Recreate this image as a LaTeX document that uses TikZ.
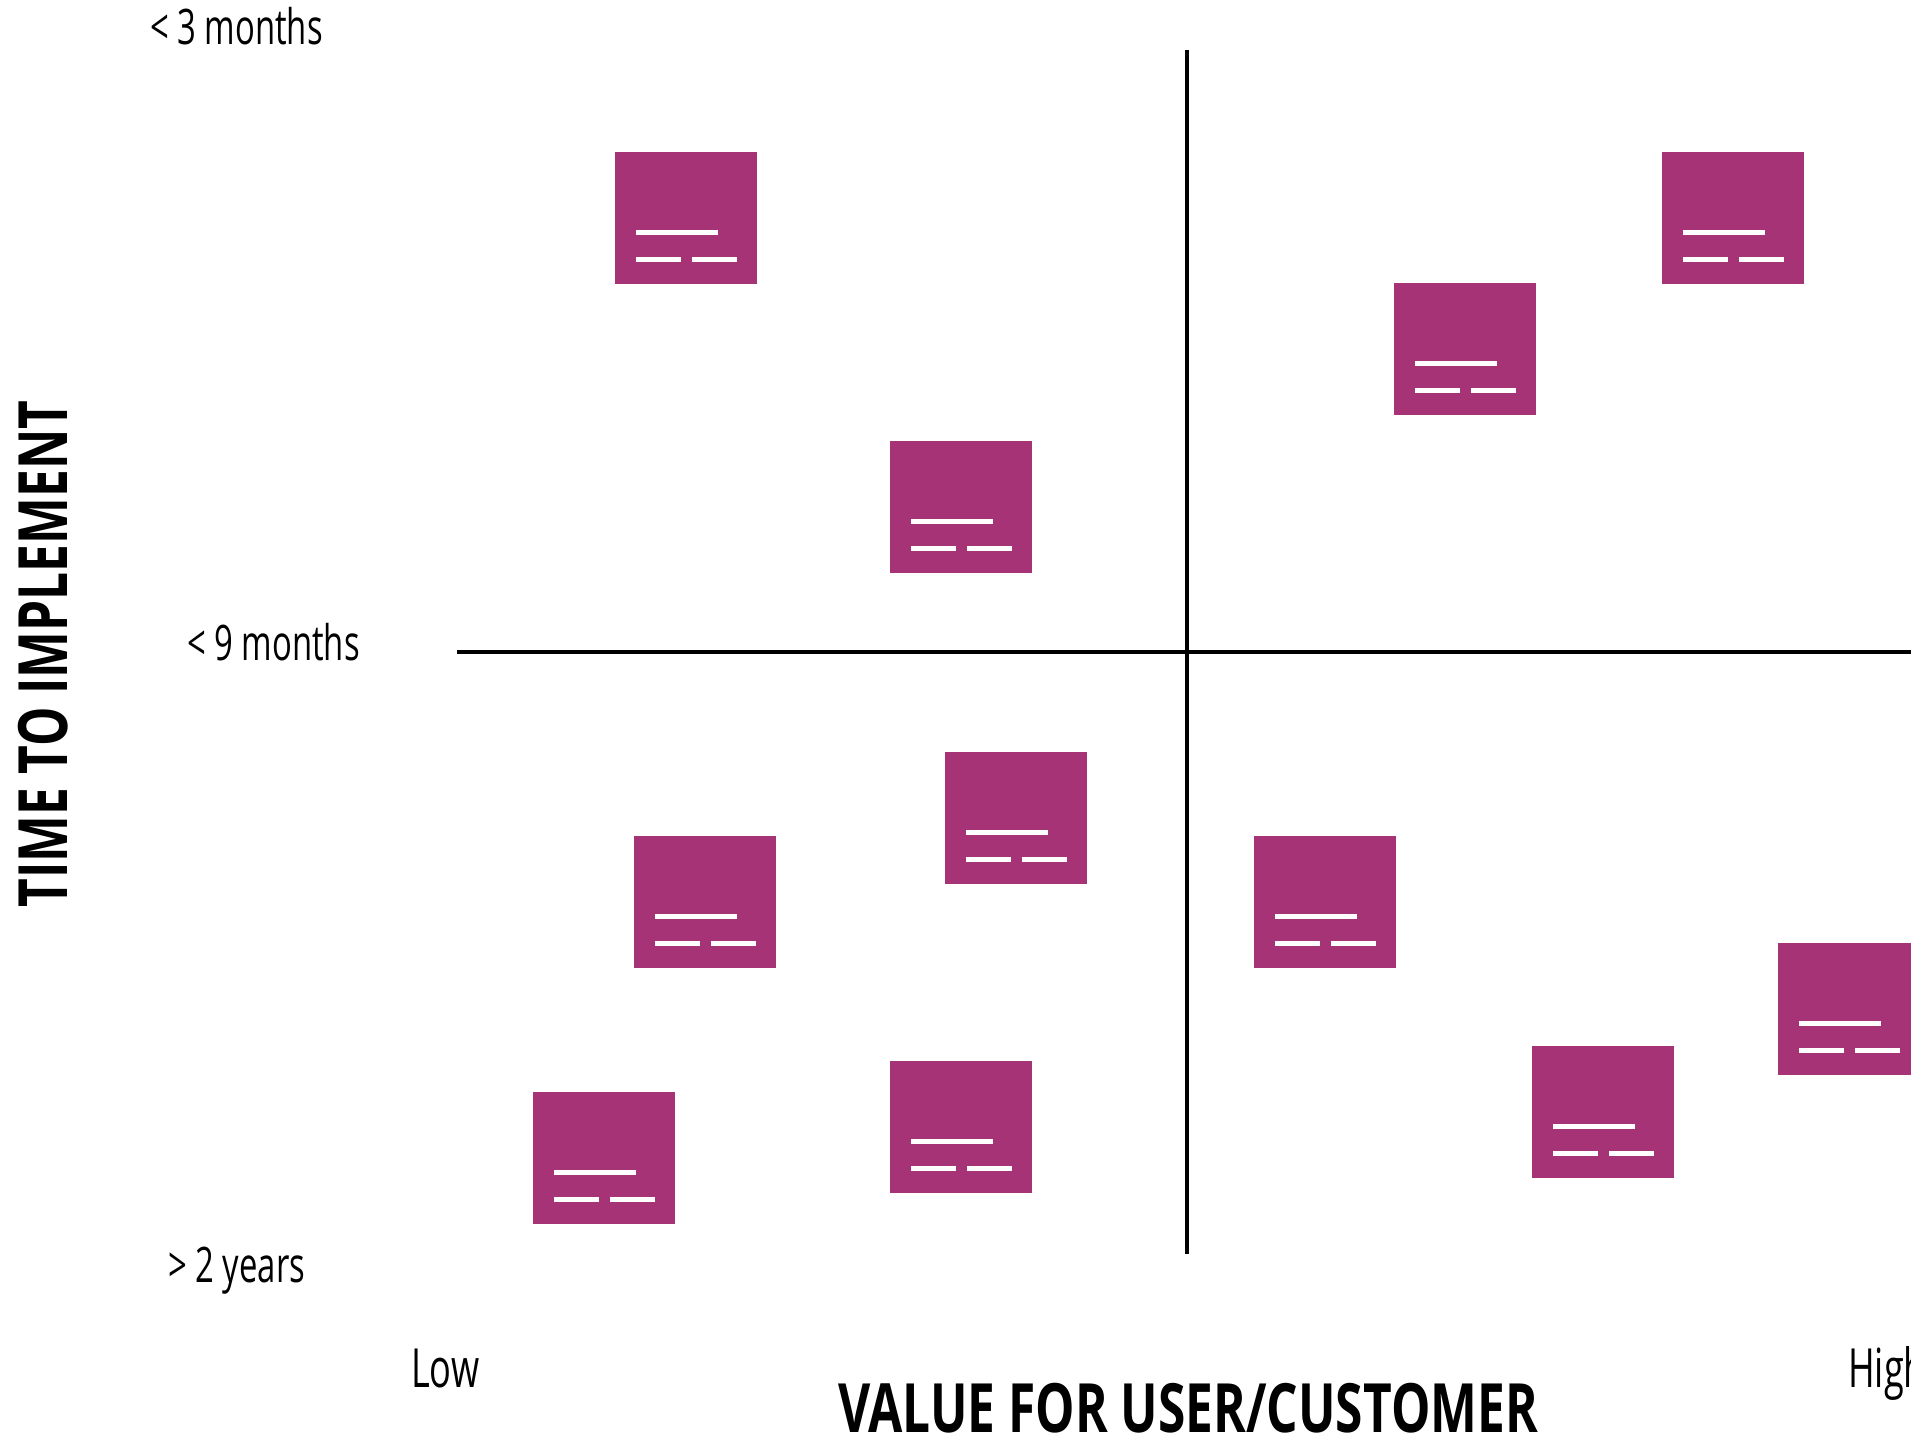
\documentclass[tikz,border=0pt]{standalone}
\usepackage{fontspec}
\setmainfont[FakeStretch=0.67]{Open Sans}
\newfontfamily\titlefont[FakeStretch=0.73]{Open Sans Bold}
\definecolor{notecol}{HTML}{A53376}
\begin{document}
\begin{tikzpicture}[x=1pt,y=-1pt,
  note/.style={fill=notecol, draw=none, minimum width=142pt, minimum height=132pt, inner sep=0pt, anchor=north west,
    path picture={
      \draw[white, line width=5pt] ([xshift=21pt,yshift=-80pt]path picture bounding box.north west) -- ++(82pt,0pt);
      \draw[white, line width=5pt] ([xshift=21pt,yshift=-107pt]path picture bounding box.north west) -- ++(45pt,0pt);
      \draw[white, line width=5pt] ([xshift=77pt,yshift=-107pt]path picture bounding box.north west) -- ++(45pt,0pt);
    }},
  axis/.style={line width=4pt, black},
  lbl/.style={font=\fontsize{49}{55}\selectfont, inner sep=0pt, anchor=base west},
  big/.style={font=\fontsize{54}{60}\selectfont, inner sep=0pt, anchor=base west, text depth=0pt},
  ttl/.style={font=\titlefont\fontsize{68}{72}\selectfont, inner sep=0pt, anchor=base, text depth=0pt}
]
\useasboundingbox (0,0) rectangle (1911,1439);
\clip (0,0) rectangle (1911,1439);
% axes
\coordinate (vtop) at (1187,50);
\coordinate (vbot) at (1187,1254);
\coordinate (hleft) at (457,652);
\coordinate (hright) at (1915,652);
\draw[axis] (vtop) -- (vbot);
\draw[axis] (hleft) -- (hright);
% notes
\node[note] (n1) at (615,152) {};
\node[note] (n2) at (1662,152) {};
\node[note] (n3) at (1394,283) {};
\node[note] (n4) at (890,441) {};
\node[note] (n5) at (945,752) {};
\node[note] (n6) at (634,836) {};
\node[note] (n7) at (1254,836) {};
\node[note] (n8) at (1778,943) {};
\node[note] (n9) at (1532,1046) {};
\node[note] (n10) at (533,1092) {};
\node[note] (n11) at (890,1061) {};
% labels
\node[lbl] (t3) at (150,45) {< 3 months};
\node[lbl] (t9) at (187,660) {< 9 months};
\node[lbl] (t2) at (168,1282) {> 2 years};
\node[big] (low) at (411,1387) {Low};
\node[big] (high) at (1848,1387) {High};
\node[ttl] (xt) at (1188,1432) {VALUE FOR USER/CUSTOMER};
\node[ttl, rotate=90] (yt) at (67,654) {TIME TO IMPLEMENT};
\end{tikzpicture}
\end{document}
